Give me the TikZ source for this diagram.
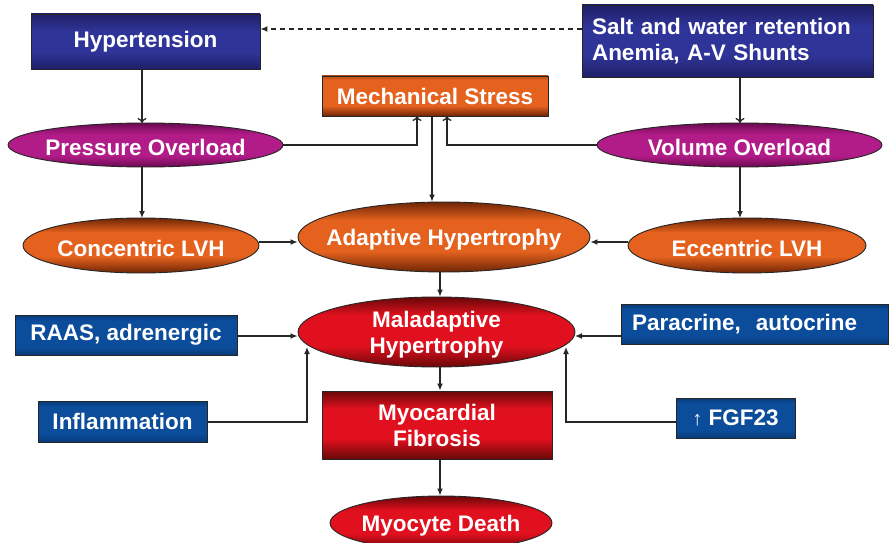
\documentclass[tikz,border=0pt]{standalone}
\usepackage{fontspec}
\setmainfont{Liberation Sans}
\usetikzlibrary{shapes.geometric,arrows.meta}
\definecolor{navyd}{HTML}{1E1F66}
\definecolor{navyl}{HTML}{2F3498}
\definecolor{bluebox}{HTML}{0B4C9B}
\definecolor{blued}{HTML}{073A78}
\definecolor{mag}{HTML}{B21C88}
\definecolor{magd}{HTML}{6A0A50}
\definecolor{ora}{HTML}{E5621E}
\definecolor{orad}{HTML}{6E2506}
\definecolor{redm}{HTML}{E0101E}
\definecolor{redd}{HTML}{680808}
\pgfdeclareverticalshading{navysh}{100bp}{color(0bp)=(navyd); color(25bp)=(navyd); color(40bp)=(navyl); color(60bp)=(navyl); color(75bp)=(navyd); color(100bp)=(navyd)}
\pgfdeclareverticalshading{bluesh}{100bp}{color(0bp)=(blued); color(25bp)=(blued); color(35bp)=(bluebox); color(68bp)=(bluebox); color(75bp)=(blued); color(100bp)=(blued)}
\pgfdeclareverticalshading{magsh}{100bp}{color(0bp)=(magd); color(25bp)=(magd); color(38bp)=(mag); color(62bp)=(mag); color(75bp)=(magd); color(100bp)=(magd)}
\pgfdeclareverticalshading{orash}{100bp}{color(0bp)=(orad); color(25bp)=(orad); color(40bp)=(ora); color(62bp)=(ora); color(75bp)=(orad); color(100bp)=(orad)}
\pgfdeclareverticalshading{orarsh}{100bp}{color(0bp)=(orad); color(25bp)=(orad); color(38bp)=(ora); color(70bp)=(ora); color(75bp)=(ora!80!black); color(100bp)=(ora!80!black)}
\pgfdeclareverticalshading{redsh}{100bp}{color(0bp)=(redd); color(25bp)=(redd); color(40bp)=(redm); color(62bp)=(redm); color(75bp)=(redd); color(100bp)=(redd)}
\tikzset{
  txt/.style={text=white,font=\fontsize{22.5}{26}\selectfont\bfseries,align=center},
  ltxt/.style={txt,yshift=-2.5pt},
  boxbase/.style={draw=black!85,line width=0.9pt,inner sep=0pt,txt},
  navybox/.style={boxbase,shading=navysh},
  bluerect/.style={boxbase,shading=bluesh},
  orabox/.style={boxbase,shading=orarsh},
  redbox/.style={boxbase,shading=redsh},
  ellbase/.style={ellipse,draw=black!85,line width=0.9pt,inner sep=0pt},
  magell/.style={ellbase,shading=magsh},
  oraell/.style={ellbase,shading=orash},
  redell/.style={ellbase,shading=redsh},
  conn/.style={line width=1.3pt,black!85,-{Latex[length=7pt,width=6pt]}},
  oconn/.style={line width=1.3pt,black!85,-{To[length=5pt,width=9pt,line width=1.3pt]}},
}
\begin{document}
\begin{tikzpicture}[x=1pt,y=-1pt]
\clip (0,0) rectangle (889,543);
\fill[white] (0,0) rectangle (889,543);

% top row
\node[navybox,minimum width=229pt,minimum height=55pt] (hyp) at (145.5,41.5) {Hypertension};
\node[navybox,minimum height=72pt,text width=271pt,inner xsep=10pt,align=left] (salt) at (727.5,41) {Salt and water retention\\Anemia, A-V Shunts};
\node[orabox,minimum width=226pt,minimum height=40pt] (mech) at (435,96) {Mechanical Stress};

% overload ellipses
\node[magell,minimum width=275pt,minimum height=44pt,label={[ltxt]center:Pressure Overload}] (po) at (145.5,145) {};
\node[magell,minimum width=285pt,minimum height=44pt,label={[ltxt]center:Volume Overload}] (vo) at (739.5,145) {};

% LVH row
\node[oraell,minimum width=236pt,minimum height=55pt,label={[ltxt]center:Concentric LVH}] (clvh) at (141,245.5) {};
\node[oraell,minimum width=292pt,minimum height=70pt,label={[ltxt]center:Adaptive Hypertrophy}] (adh) at (444,237) {};
\node[oraell,minimum width=238pt,minimum height=55pt,label={[ltxt]center:Eccentric LVH}] (elvh) at (747,245.5) {};

% maladaptive
\node[redell,minimum width=277pt,minimum height=70pt,label={[ltxt]center:Maladaptive\\Hypertrophy}] (mal) at (436.5,332) {};
\node[bluerect,minimum width=222pt,minimum height=40pt] (raas) at (126,335) {RAAS, adrenergic};
\node[bluerect,minimum height=40pt,text width=245pt,inner xsep=11pt,align=left] (para) at (754.5,324) {Paracrine,\ \ autocrine};
\node[bluerect,minimum width=169pt,minimum height=41pt] (infl) at (122.5,421.5) {Inflammation};
\node[bluerect,minimum width=119pt,minimum height=40pt] (fgf) at (735.5,418) {{\fontsize{20}{24}\selectfont\mdseries↑} FGF23};

% bottom
\node[redbox,minimum width=230pt,minimum height=68pt] (myf) at (437,425) {Myocardial\\Fibrosis};
\node[redell,minimum width=222pt,minimum height=54pt,label={[ltxt]center:Myocyte Death}] (myd) at (441,523) {};

% connectors
\draw[line width=1.3pt,black!85,dash pattern=on 5pt off 4pt,-{Latex[length=7pt,width=6pt]}] (salt.west |- 0,29) -- (hyp.east |- 0,29);
\draw[oconn] (hyp.south -| 142,0) -- (142,123);
\draw[oconn] (salt.south -| 740,0) -- (740,123);
\draw[oconn] (po.east) -| (417,116);
\draw[oconn] (vo.west) -| (447,116);
\draw[conn] (mech.south -| 432,0) -- (adh.north -| 432,0);
\draw[conn] (142,167) -- (142,218);
\draw[conn] (740,167) -- (740,218);
\draw[conn] (clvh.east |- 0,242) -- (adh.west |- 0,242);
\draw[conn] (elvh.west |- 0,242) -- (adh.east |- 0,242);
\draw[conn] (adh.south -| 440,0) -- (mal.north -| 440,0);
\draw[conn] (raas.east |- 0,336) -- (mal.west |- 0,336);
\draw[conn] (para.west |- 0,336) -- (575,336);
\draw[conn] (infl.east |- 0,422) -| (307,347);
\draw[conn] (fgf.west |- 0,422) -| (566,347);
\draw[conn] (mal.south -| 440,0) -- (myf.north -| 440,0);
\draw[conn] (myf.south -| 440,0) -- (myd.north -| 440,0);
\end{tikzpicture}
\end{document}
